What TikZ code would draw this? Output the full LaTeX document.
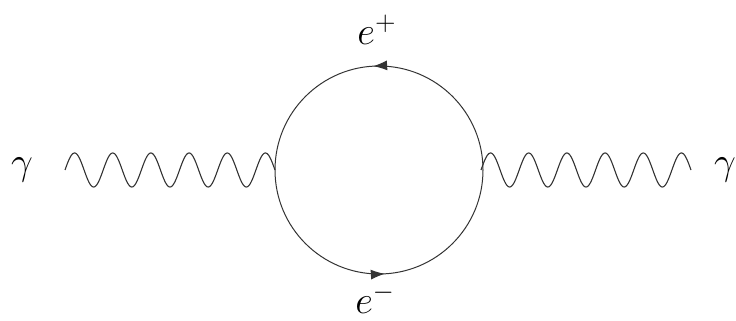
\documentclass[tikz,border=0pt]{standalone}
\usetikzlibrary{decorations.markings,arrows.meta}
\begin{document}
\begin{tikzpicture}[x=1pt,y=1pt,
  photon/.style={line width=1.1pt, black!80},
  fermion/.style={line width=1pt, black!80},
  lbl/.style={font=\huge, scale=1.87, inner sep=0pt}]
\useasboundingbox (0,0) rectangle (736,321);
\coordinate (c) at (379,151);
\coordinate (vL) at (275,151);
\coordinate (vR) at (483,151);
% photons
\draw[photon] plot[domain=65:275, samples=300, smooth] (\x, {151 + 17*sin(9.429*(\x-65))});
\draw[photon] plot[domain=481:691, samples=300, smooth] (\x, {151 + 17*sin(9.429*(\x-481))});
% fermion loop
\draw[fermion, postaction={decorate, decoration={markings,
   mark=at position 0.259 with {\arrow{Latex[length=14pt,width=10pt]}},
   mark=at position 0.759 with {\arrow{Latex[length=14pt,width=10pt]}}}}]
   (c) circle (104pt);
% labels
\node[lbl, anchor=base] (ep) at (377,276) {$e^+$};
\node[lbl, anchor=base] (em) at (375,7) {$e^-$};
\node[lbl, anchor=base] (gl) at (22,146) {$\gamma$};
\node[lbl, anchor=base] (gr) at (725,146) {$\gamma$};
\end{tikzpicture}
\end{document}
